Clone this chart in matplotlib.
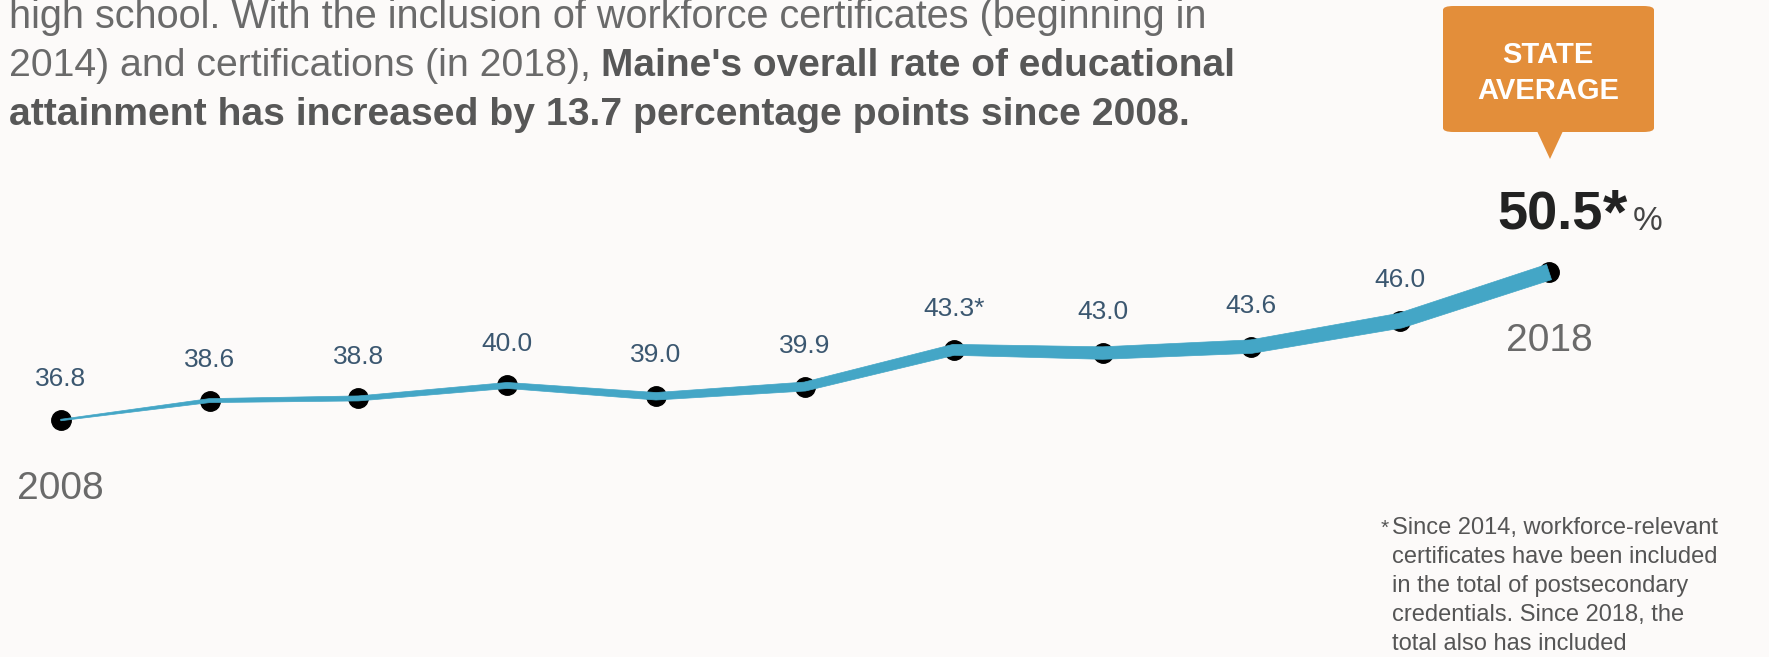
import numpy as np
import matplotlib
matplotlib.use("Agg")
import matplotlib.pyplot as plt
from matplotlib import font_manager
from matplotlib.patches import Polygon, FancyBboxPatch
from matplotlib.transforms import IdentityTransform

# data
years = [2008, 2009, 2010, 2011, 2012, 2013, 2014, 2015, 2016, 2017, 2018]
rates = [36.8, 38.6, 38.8, 40.0, 39.0, 39.9, 43.3, 43.0, 43.6, 46.0, 50.5]
starred = [2014]          # values with the footnote mark
end_years = [2008, 2018]  # years written under the line

intro = "high school. With the inclusion of workforce certificates (beginning in"
intro2_reg = "2014) and certifications (in 2018),"
intro2_bold = "Maine's overall rate of educational"
intro3_bold = "attainment has increased by 13.7 percentage points since 2008."
badge = "STATE\nAVERAGE"
footnote = ["Since 2014, workforce-relevant",
            "certificates have been included",
            "in the total of postsecondary",
            "credentials. Since 2018, the",
            "total also has included"]


def has_font(name):
    try:
        font_manager.findfont(name, fallback_to_default=False)
        return True
    except ValueError:
        return False


NARROW = "Liberation Sans Narrow" if has_font("Liberation Sans Narrow") else "Liberation Sans"
SANS = "Liberation Sans"

W, H = 1769, 657
BG = "#fcfaf9"
LINE = "#44a6c6"
LAB = "#3b5770"
GREY = "#6a6a6a"

fig = plt.figure(figsize=(W / 100, H / 100), dpi=100, facecolor=BG)
ax = fig.add_axes([0, 0, 1, 1])
ax.set_facecolor(BG)
ax.axis("off")
ax.set_xlim(2007.592, 2019.478)
ax.set_ylim(14.86, 75.69)


def fp(x, y):
    # pixel from top-left -> figure fraction
    return x / W, 1 - y / H


# tapered line, built in display space
pts = ax.transData.transform(np.column_stack([years, rates]))
widths = np.array([1.5, 4, 5, 6, 7.5, 9, 11, 12.5, 13.5, 15, 16])
segs = np.diff(pts, axis=0)
segn = np.column_stack([-segs[:, 1], segs[:, 0]])
segn /= np.linalg.norm(segn, axis=1)[:, None]
norms = np.zeros_like(pts)
norms[0] = segn[0]
norms[-1] = segn[-1]
norms[1:-1] = segn[:-1] + segn[1:]
norms /= np.linalg.norm(norms, axis=1)[:, None]
upper = pts + norms * widths[:, None] / 2
lower = pts - norms * widths[:, None] / 2
poly = Polygon(np.vstack([upper, lower[::-1]]), closed=True, facecolor=LINE,
               edgecolor=LINE, linewidth=0.5, transform=IdentityTransform(), zorder=2)
fig.patches.append(poly)
poly.set_figure(fig)

ax.plot(years, rates, linestyle="none", marker="o", markersize=14,
        color="black", zorder=3)

# value labels
for yr, v in zip(years[:-1], rates[:-1]):
    txt = f"{v:.1f}" + ("*" if yr in starred else "")
    ax.annotate(txt, (yr, v), xytext=(0, 41), textcoords="offset pixels",
                ha="center", va="center", fontsize=19, color=LAB, family=SANS)

# year labels
for yr in end_years:
    v = rates[years.index(yr)]
    ax.annotate(str(yr), (yr, v), xytext=(0, -69), textcoords="offset pixels",
                ha="center", va="center", fontsize=28, color=GREY, family=SANS)

# big final value
fig.text(*fp(1497, 230), f"{rates[-1]:.1f}", fontsize=39, fontweight="bold",
         color="#222222", family=SANS, va="baseline", ha="left")
fig.text(*fp(1603, 232), "*", fontsize=45, fontweight="bold",
         color="#222222", family=SANS, va="baseline", ha="left")
fig.text(*fp(1633, 230), "%", fontsize=24, color="#444444", family=SANS,
         va="baseline", ha="left")

# orange badge
bx0, by0 = fp(1443, 132)
bx1, by1 = fp(1654, 6)
fig.patches.append(FancyBboxPatch((bx0, by0), bx1 - bx0, by1 - by0,
                                  boxstyle="round,pad=0,rounding_size=0.006",
                                  facecolor="#e38e3a", edgecolor="none",
                                  transform=fig.transFigure, figure=fig))
fig.patches.append(Polygon([fp(1537, 131), fp(1563, 131), fp(1550, 159)], closed=True,
                           facecolor="#e38e3a", edgecolor="none",
                           transform=fig.transFigure, figure=fig))
fig.text(*fp(1548, 73), badge, ha="center", va="center", fontsize=21,
         fontweight="bold", color="white", family=SANS, linespacing=1.35)

# intro paragraph
fig.text(*fp(9, 28), intro, fontsize=28.5, color=GREY, family=NARROW, va="baseline")
t2 = fig.text(*fp(9, 76), intro2_reg, fontsize=28.3, color=GREY, family=NARROW, va="baseline")
ax.annotate(intro2_bold, xy=(1, 0), xycoords=t2, xytext=(10, 0), textcoords="offset pixels",
            fontsize=28, fontweight="bold", color="#575757", family=NARROW,
            va="bottom", ha="left")
fig.text(*fp(9, 125), intro3_bold, fontsize=28.2, fontweight="bold", color="#575757",
         family=NARROW, va="baseline")

# footnote
fig.text(*fp(1381, 534), "*", fontsize=15, color="#555555", family=SANS, va="baseline")
for i, line in enumerate(footnote):
    fig.text(*fp(1392, 534 + 29 * i), line, fontsize=17, color="#555555",
             family=SANS, va="baseline")

fig.savefig("out.png", dpi=100, facecolor=BG)
